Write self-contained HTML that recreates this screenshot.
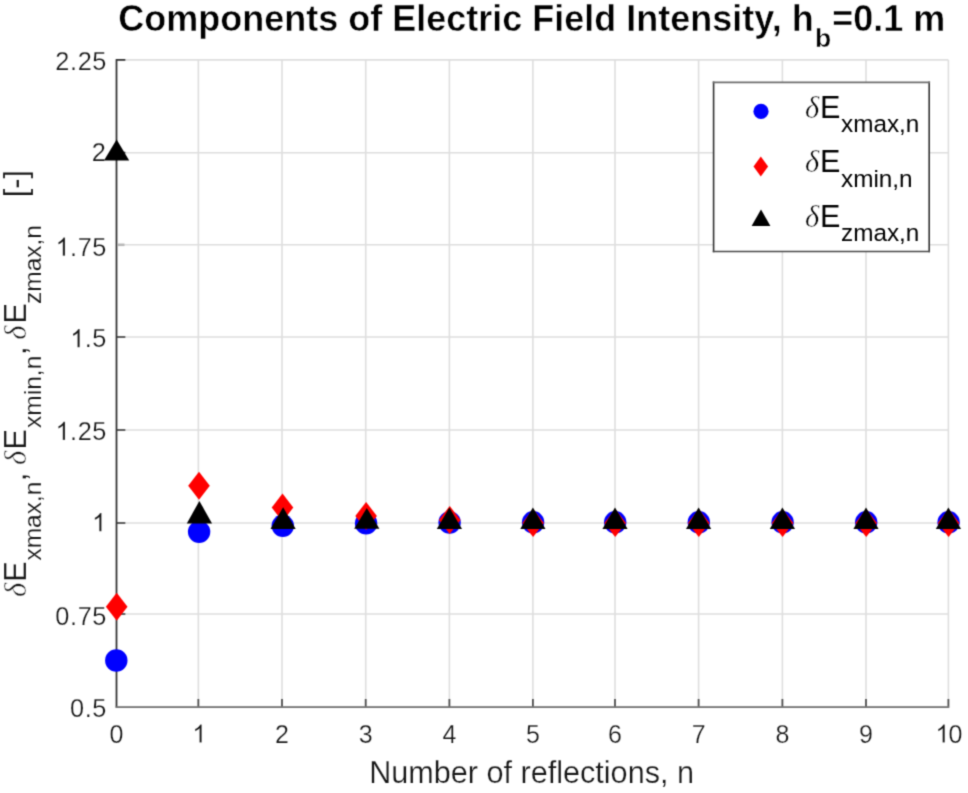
<!DOCTYPE html><html><head><meta charset="utf-8"><style>html,body{margin:0;padding:0;background:#fff;width:968px;height:793px;overflow:hidden}svg{display:block}text{font-family:"Liberation Sans",sans-serif}</style></head><body>
<div><svg width="968" height="793" viewBox="0 0 968 793">
<defs><filter id="sm" x="0" y="0" width="968" height="793" filterUnits="userSpaceOnUse" color-interpolation-filters="sRGB"><feConvolveMatrix order="3" kernelMatrix="1 4 1 4 16 4 1 4 1" edgeMode="duplicate"/></filter></defs><g filter="url(#sm)">
<rect width="968" height="793" fill="#fff"/>
<path d="M116.5 59.9V706.7M198.35 59.9V706.7M282.0 59.9V706.7M365.7 59.9V706.7M449.4 59.9V706.7M532.9 59.9V706.7M615.0 59.9V706.7M698.6 59.9V706.7M782.4 59.9V706.7M866.0 59.9V706.7M948.4 59.9V706.7M116.5 706.7H948.4M116.5 614.0H948.4M116.5 523.0H948.4M116.5 430.0H948.4M116.5 337.0H948.4M116.5 244.7H948.4M116.5 152.7H948.4M116.5 59.9H948.4" stroke="#dedede" stroke-width="1.6" fill="none"/>
<path d="M116.5 59.9V706.7M116.5 614.0H124.5M116.5 523.0H124.5M116.5 430.0H124.5M116.5 337.0H124.5M116.5 152.7H124.5M116.5 59.9H124.5" stroke="#333333" stroke-width="1.7" fill="none" stroke-linecap="square"/>
<path d="M117.4 244.8H124.5" stroke="#b8b8b8" stroke-width="2.6" fill="none"/>
<path d="M116.5 707.1H948.4" stroke="#737373" stroke-width="1.9" fill="none" stroke-linecap="square"/>
<path d="M198.35 706.6V698.9M282.0 706.6V698.9M365.7 706.6V698.9M449.4 706.6V698.9M532.9 706.6V698.9M615.0 706.6V698.9M698.6 706.6V698.9M782.4 706.6V698.9M866.0 706.6V698.9M948.4 706.6V698.9" stroke="#505050" stroke-width="1.8" fill="none"/>
<text x="109.55" y="742.5" font-size="25" fill="#161616" stroke="#fff" stroke-width="0.25" stroke-linejoin="round">0</text>
<path d="M201.69 742.50L199.49 742.50L199.49 728.50Q198.70 729.26 197.40 730.01Q196.11 730.77 195.08 731.15L195.08 729.02Q196.93 728.16 198.31 726.92Q199.69 725.69 200.26 724.53L201.69 724.53Z" fill="#161616" stroke="#fff" stroke-width="0.25" stroke-linejoin="round"/>
<text x="275.05" y="742.5" font-size="25" fill="#161616" stroke="#fff" stroke-width="0.25" stroke-linejoin="round">2</text>
<text x="358.75" y="742.5" font-size="25" fill="#161616" stroke="#fff" stroke-width="0.25" stroke-linejoin="round">3</text>
<text x="442.45" y="742.5" font-size="25" fill="#161616" stroke="#fff" stroke-width="0.25" stroke-linejoin="round">4</text>
<text x="525.95" y="742.5" font-size="25" fill="#161616" stroke="#fff" stroke-width="0.25" stroke-linejoin="round">5</text>
<text x="608.05" y="742.5" font-size="25" fill="#161616" stroke="#fff" stroke-width="0.25" stroke-linejoin="round">6</text>
<text x="691.65" y="742.5" font-size="25" fill="#161616" stroke="#fff" stroke-width="0.25" stroke-linejoin="round">7</text>
<text x="775.45" y="742.5" font-size="25" fill="#161616" stroke="#fff" stroke-width="0.25" stroke-linejoin="round">8</text>
<text x="859.05" y="742.5" font-size="25" fill="#161616" stroke="#fff" stroke-width="0.25" stroke-linejoin="round">9</text>
<text x="948.40" y="742.5" font-size="25" fill="#161616" stroke="#fff" stroke-width="0.25" stroke-linejoin="round">0</text><path d="M944.79 742.50L942.59 742.50L942.59 728.50Q941.79 729.26 940.50 730.01Q939.21 730.77 938.18 731.15L938.18 729.02Q940.02 728.16 941.40 726.92Q942.78 725.69 943.36 724.53L944.79 724.53Z" fill="#161616" stroke="#fff" stroke-width="0.25" stroke-linejoin="round"/>
<text x="70.03 84.70 92.33" y="717.4000000000001" font-size="25.3" fill="#161616" stroke="#fff" stroke-width="0.25" stroke-linejoin="round">0.5</text>
<text x="55.35 70.03 77.66 92.33" y="624.8000000000001" font-size="25.3" fill="#161616" stroke="#fff" stroke-width="0.25" stroke-linejoin="round">0.75</text>
<path d="M101.50 531.30L99.28 531.30L99.28 517.13Q98.47 517.90 97.16 518.66Q95.86 519.43 94.82 519.81L94.82 517.66Q96.68 516.78 98.08 515.54Q99.47 514.29 100.06 513.12L101.50 513.12Z" fill="#161616" stroke="#fff" stroke-width="0.25" stroke-linejoin="round"/>
<text x="70.03 77.66 92.33" y="439.9" font-size="25.3" fill="#161616" stroke="#fff" stroke-width="0.25" stroke-linejoin="round">.25</text><path d="M65.03 439.90L62.80 439.90L62.80 425.73Q62.00 426.50 60.69 427.26Q59.38 428.03 58.34 428.41L58.34 426.26Q60.21 425.38 61.60 424.14Q63.00 422.89 63.58 421.72L65.03 421.72Z" fill="#161616" stroke="#fff" stroke-width="0.25" stroke-linejoin="round"/>
<text x="84.70 92.33" y="347.3" font-size="25.3" fill="#161616" stroke="#fff" stroke-width="0.25" stroke-linejoin="round">.5</text><path d="M79.70 347.30L77.47 347.30L77.47 333.13Q76.67 333.90 75.36 334.66Q74.05 335.43 73.01 335.81L73.01 333.66Q74.88 332.78 76.28 331.54Q77.67 330.29 78.25 329.12L79.70 329.12Z" fill="#161616" stroke="#fff" stroke-width="0.25" stroke-linejoin="round"/>
<text x="70.03 77.66 92.33" y="255.79999999999998" font-size="25.3" fill="#161616" stroke="#fff" stroke-width="0.25" stroke-linejoin="round">.75</text><path d="M65.03 255.80L62.80 255.80L62.80 241.63Q62.00 242.40 60.69 243.16Q59.38 243.93 58.34 244.31L58.34 242.16Q60.21 241.28 61.60 240.04Q63.00 238.79 63.58 237.62L65.03 237.62Z" fill="#161616" stroke="#fff" stroke-width="0.25" stroke-linejoin="round"/>
<text x="91.63" y="160.89999999999998" font-size="25.3" fill="#161616" stroke="#fff" stroke-width="0.25" stroke-linejoin="round">2</text>
<text x="55.35 70.03 77.66 92.33" y="70.0" font-size="25.3" fill="#161616" stroke="#fff" stroke-width="0.25" stroke-linejoin="round">2.25</text>
<circle cx="116.3" cy="660.5" r="11.2" fill="#0000ff"/>
<circle cx="199.1" cy="531.8" r="11.2" fill="#0000ff"/>
<circle cx="282.8" cy="525.8" r="11.2" fill="#0000ff"/>
<circle cx="366.1" cy="523.4" r="11.2" fill="#0000ff"/>
<circle cx="449.6" cy="522.5" r="11.2" fill="#0000ff"/>
<circle cx="533.1" cy="522.3" r="11.2" fill="#0000ff"/>
<circle cx="615.2" cy="522.3" r="11.2" fill="#0000ff"/>
<circle cx="698.8000000000001" cy="522.3" r="11.2" fill="#0000ff"/>
<circle cx="782.6" cy="522.3" r="11.2" fill="#0000ff"/>
<circle cx="866.2" cy="522.3" r="11.2" fill="#0000ff"/>
<circle cx="948.6" cy="522.3" r="11.2" fill="#0000ff"/>
<path d="M116.7 592.8L127.5 606.8L116.7 620.8L105.9 606.8Z" fill="#ff0000"/>
<path d="M199.0 471.7L209.8 485.7L199.0 499.7L188.2 485.7Z" fill="#ff0000"/>
<path d="M282.5 493.6L293.3 507.6L282.5 521.6L271.7 507.6Z" fill="#ff0000"/>
<path d="M366.1 502.0L376.90000000000003 516.0L366.1 530.0L355.3 516.0Z" fill="#ff0000"/>
<path d="M449.7 505.9L460.5 519.9L449.7 533.9L438.9 519.9Z" fill="#ff0000"/>
<path d="M533.1 509.0L543.9 523.0L533.1 537.0L522.3000000000001 523.0Z" fill="#ff0000"/>
<path d="M615.2 509.0L626.0 523.0L615.2 537.0L604.4000000000001 523.0Z" fill="#ff0000"/>
<path d="M698.8000000000001 509.0L709.6 523.0L698.8000000000001 537.0L688.0000000000001 523.0Z" fill="#ff0000"/>
<path d="M782.6 509.0L793.4 523.0L782.6 537.0L771.8000000000001 523.0Z" fill="#ff0000"/>
<path d="M866.2 509.0L877.0 523.0L866.2 537.0L855.4000000000001 523.0Z" fill="#ff0000"/>
<path d="M948.6 509.0L959.4 523.0L948.6 537.0L937.8000000000001 523.0Z" fill="#ff0000"/>
<path d="M116.6 139.4L129.2 160.6L104.0 160.6Z" fill="#000"/>
<path d="M199.4 500.9L212.0 523.6L186.8 523.6Z" fill="#000"/>
<path d="M283.1 507.3L295.70000000000005 528.9L270.5 528.9Z" fill="#000"/>
<path d="M366.8 508.0L379.40000000000003 528.8L354.2 528.8Z" fill="#000"/>
<path d="M449.4 507.5L462.0 529.1L436.79999999999995 529.1Z" fill="#000"/>
<path d="M532.9 507.5L545.5 529.1L520.3 529.1Z" fill="#000"/>
<path d="M615.0 507.5L627.6 529.1L602.4 529.1Z" fill="#000"/>
<path d="M698.6 507.5L711.2 529.1L686.0 529.1Z" fill="#000"/>
<path d="M782.4 507.5L795.0 529.1L769.8 529.1Z" fill="#000"/>
<path d="M866.0 507.5L878.6 529.1L853.4 529.1Z" fill="#000"/>
<path d="M948.4 507.5L961.0 529.1L935.8 529.1Z" fill="#000"/>
<text y="31" font-size="36" font-weight="bold" fill="#000" stroke="#fff" stroke-width="0.45" stroke-linejoin="round"><tspan x="118.3">Components of Electric Field Intensity, h</tspan><tspan x="815.1" y="47.3" font-size="26.5">b</tspan><tspan x="832.3" y="31">=0.1 m</tspan></text>
<text x="369.2" y="782.5" font-size="30.6" fill="#161616" stroke="#fff" stroke-width="0.25" stroke-linejoin="round">Number of reflections, n</text>
<g transform="rotate(-90)" fill="#161616" stroke="#fff" stroke-width="0.15"><text x="-597.0" y="25.8" font-size="30.6" style="font-family:&quot;Liberation Serif&quot;,serif;font-style:italic;stroke:#fff;stroke-width:0.5px">δ</text><text x="-581.8" y="25.8" font-size="30.6" >E</text><text x="-560.6" y="40.5" font-size="24.5" >xmax,n</text><text x="-481.3" y="25.8" font-size="30.6" >,</text><text x="-464.9" y="25.8" font-size="30.6" style="font-family:&quot;Liberation Serif&quot;,serif;font-style:italic;stroke:#fff;stroke-width:0.5px">δ</text><text x="-449.6" y="25.8" font-size="30.6" >E</text><text x="-427.9" y="40.5" font-size="24.5" >xmin,n</text><text x="-355.0" y="25.8" font-size="30.6" >,</text><text x="-339.8" y="25.8" font-size="30.6" style="font-family:&quot;Liberation Serif&quot;,serif;font-style:italic;stroke:#fff;stroke-width:0.5px">δ</text><text x="-323.5" y="25.8" font-size="30.6" >E</text><text x="-304.0" y="40.5" font-size="24.5" >zmax,n</text><text x="-197.2" y="25.8" font-size="30.6" >[-]</text></g>
<rect x="713.6" y="82.4" width="215.6" height="169.0" fill="#fff"/>
<path d="M713.6 82.4V251.4M929.2 82.4V251.4" stroke="#333333" stroke-width="1.6" fill="none" stroke-linecap="square"/>
<path d="M713.6 82.4H929.2" stroke="#6e6e6e" stroke-width="1.8" fill="none" stroke-linecap="square"/>
<path d="M713.6 251.5H929.2" stroke="#4a4a4a" stroke-width="1.7" fill="none" stroke-linecap="square"/>
<circle cx="761" cy="111.4" r="7.6" fill="#0000ff"/>
<path d="M760.8 156.4L768.1 166.5L760.8 176.6L753.5 166.5Z" fill="#ff0000"/>
<path d="M761 209.6L770.4 226L751.6 226Z" fill="#000"/>
<text y="118.0" font-size="30.6" fill="#000"><tspan x="805.1" style="font-family:&quot;Liberation Serif&quot;,serif;font-style:italic;stroke:#fff;stroke-width:0.5px">δ</tspan><tspan x="819.9">E</tspan><tspan x="841.0" y="132.3" font-size="24.3">xmax,n</tspan></text>
<text y="172.4" font-size="30.6" fill="#000"><tspan x="805.1" style="font-family:&quot;Liberation Serif&quot;,serif;font-style:italic;stroke:#fff;stroke-width:0.5px">δ</tspan><tspan x="819.9">E</tspan><tspan x="841.0" y="186.7" font-size="24.3">xmin,n</tspan></text>
<text y="226.9" font-size="30.6" fill="#000"><tspan x="805.1" style="font-family:&quot;Liberation Serif&quot;,serif;font-style:italic;stroke:#fff;stroke-width:0.5px">δ</tspan><tspan x="819.9">E</tspan><tspan x="841.0" y="241.1" font-size="24.3">zmax,n</tspan></text>
</g></svg></div></body></html>
